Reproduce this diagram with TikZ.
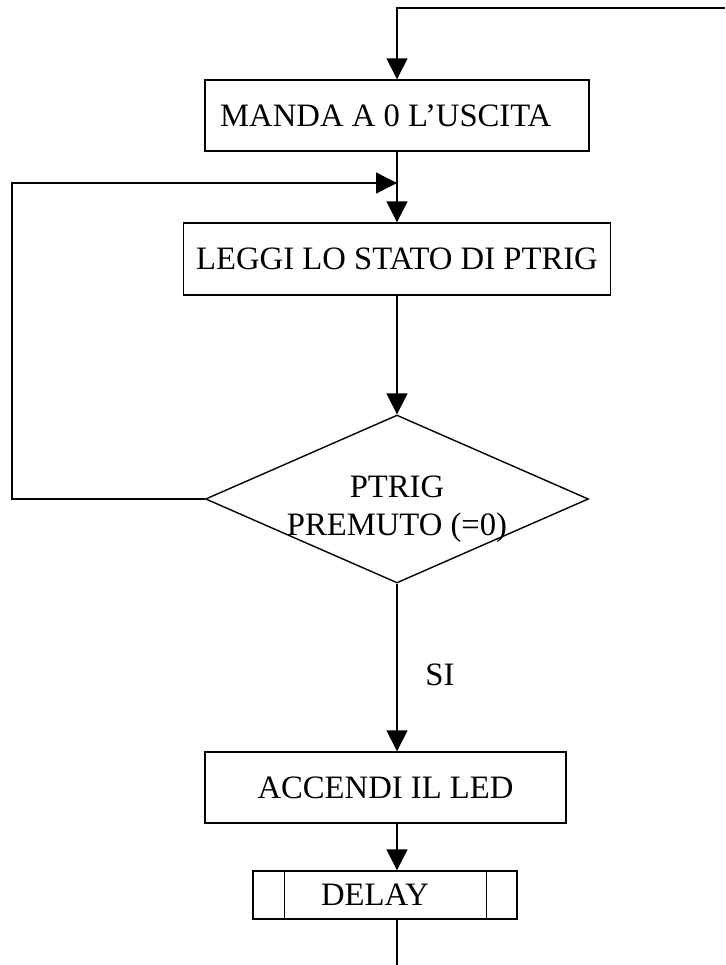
\documentclass[tikz,border=0pt]{standalone}
\usepackage{fontspec}
\setmainfont{Liberation Serif}
\usetikzlibrary{arrows.meta,shapes.geometric}

\begin{document}
\begin{tikzpicture}[x=0.02cm,y=-0.02cm,line width=0.8pt,
        font=\fontsize{18.6}{22}\selectfont,
        proc/.style={draw,rectangle,minimum height=1.42cm,inner sep=0pt},
        cond/.style={draw,diamond,minimum width=7.66cm,minimum height=3.36cm,inner sep=0pt},
        freccia/.style={-{Triangle[length=4.2mm,width=4.2mm]}}]
            \useasboundingbox (0,0) rectangle (725,965);
            \node[proc,minimum width=7.68cm] (manda) at (397,115.5) {MANDA A 0 L’USCITA\hspace*{0.45cm}};
            \node[proc,minimum width=8.54cm,minimum height=1.44cm] (leggi) at (397,259) {LEGGI LO STATO DI PTRIG};
            \node[cond] (premuto) at (397,499) {};
            \node[align=center] (testo) at (397,509) {PTRIG\\PREMUTO (=0)};
            \node (si) at (440,675) {SI};
            \node[proc,minimum width=7.22cm] (accendi) at (385.5,787.5) {ACCENDI IL LED};
            \node[proc,minimum width=5.28cm,minimum height=0.96cm] (delay) at (385,895) {DELAY\hspace*{0.4cm}};
            \draw ([xshift=0.64cm]delay.north west) -- ([xshift=0.64cm]delay.south west);
            \draw ([xshift=-0.62cm]delay.north east) -- ([xshift=-0.62cm]delay.south east);
            \coordinate (ritorno) at (725,8);
            \coordinate (giunto) at (397,183);
            \coordinate (uscita) at (397,965);
            \draw[freccia] (ritorno) -| (manda.north);
            \draw[freccia] (manda.south) -- (leggi.north);
            \draw[freccia] (premuto.west) -- ++(-193,0) |- (giunto);
            \draw[freccia] (leggi.south) -- (premuto.north);
            \draw[freccia] (premuto.south) -- (premuto.south |- accendi.north);
            \draw[freccia] (premuto.south |- accendi.south) -- (premuto.south |- delay.north);
            \draw (premuto.south |- delay.south) -- (uscita);
        \end{tikzpicture}
\end{document}
